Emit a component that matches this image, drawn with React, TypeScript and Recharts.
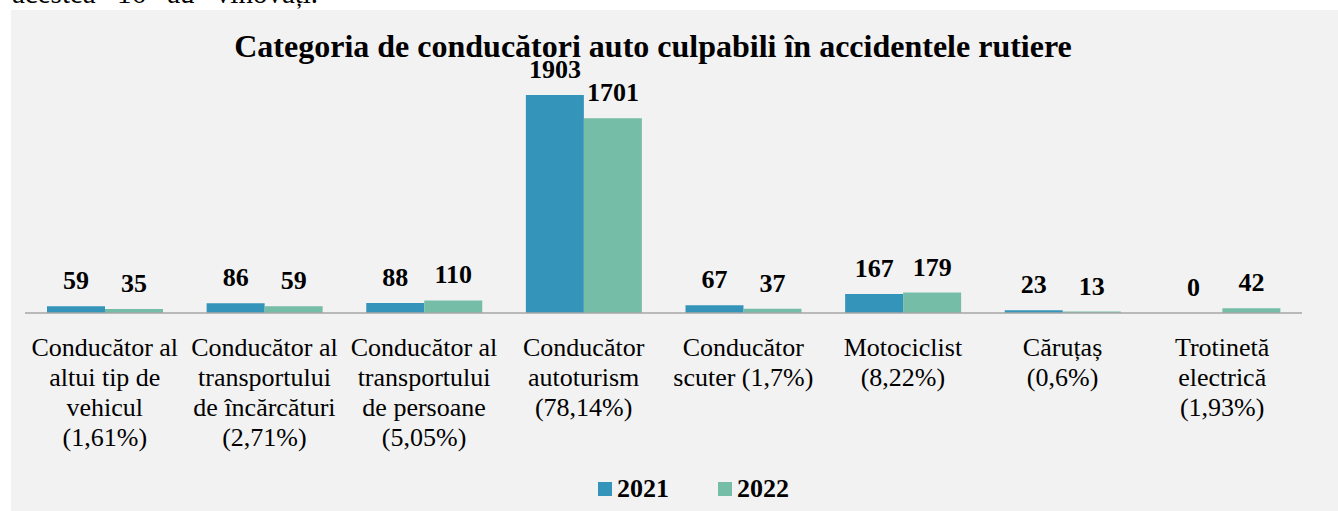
import { Bar, BarChart, LabelList, XAxis, YAxis } from 'recharts'

const FONT = 'Liberation Serif, Times New Roman, serif'

const categories = [
  'Conducător al\naltui tip de\nvehicul\n(1,61%)',
  'Conducător al\ntransportului\nde încărcături\n(2,71%)',
  'Conducător al\ntransportului\nde persoane\n(5,05%)',
  'Conducător\nautoturism\n(78,14%)',
  'Conducător\nscuter (1,7%)',
  'Motociclist\n(8,22%)',
  'Căruțaș\n(0,6%)',
  'Trotinetă\nelectrică\n(1,93%)',
]
const values2021 = [59, 86, 88, 1903, 67, 167, 23, 0]
const values2022 = [35, 59, 110, 1701, 37, 179, 13, 42]
const seriesNames = ['2021', '2022']
const seriesColors = ['#3494BA', '#75BDA7']

const data = categories.map((name, i) => ({ name, v2021: values2021[i], v2022: values2022[i] }))

function CategoryTick({ x, y, payload }: any) {
  const lines = String(payload.value).split('\n')
  return (
    <text x={x} y={y + 43} textAnchor="middle" fontFamily={FONT} fontSize={26} fill="#000">
      {lines.map((line, i) => (
        <tspan key={i} x={x} dy={i === 0 ? 0 : 30}>{line}</tspan>
      ))}
    </text>
  )
}

function ValueLabel({ x, y, width, value }: any) {
  return (
    <text x={x + width / 2} y={y - 17} textAnchor="middle" fill="#000" fontFamily={FONT} fontSize={26} fontWeight={700}>
      {value}
    </text>
  )
}

export default function App() {
  return (
    <div style={{ position: 'absolute', left: 0, top: 0, width: 1338, height: 511, overflow: 'hidden', background: '#fff', fontFamily: FONT }}>
      <div style={{ position: 'absolute', left: 11, top: 10, width: 1327, height: 501, background: '#f2f2f2' }}>
        <BarChart width={1327} height={501} data={data} margin={{ top: 74, right: 36, left: 14, bottom: 168 }} barGap={0} barSize={58} style={{ fontFamily: FONT }}>
          <XAxis
            dataKey="name"
            height={30}
            interval={0}
            tickSize={0}
            tickMargin={0}
            tickLine={false}
            axisLine={{ stroke: '#a6a6a6', strokeWidth: 1.5 }}
            tick={<CategoryTick />}
          />
          <YAxis hide domain={[0, 2000]} />
          <Bar dataKey="v2021" name={seriesNames[0]} fill={seriesColors[0]} minPointSize={0.1} isAnimationActive={false}>
            <LabelList dataKey="v2021" content={<ValueLabel />} />
          </Bar>
          <Bar dataKey="v2022" name={seriesNames[1]} fill={seriesColors[1]} minPointSize={0.1} isAnimationActive={false}>
            <LabelList dataKey="v2022" content={<ValueLabel />} />
          </Bar>
        </BarChart>
      </div>
      <svg width={1338} height={511} style={{ position: 'absolute', left: 0, top: 0, pointerEvents: 'none' }}>
        <text x={12} y={3} fill="#000" fontFamily={FONT} fontSize={29} style={{ wordSpacing: 14 }}>
          acestea 16 au vinovați.
        </text>
        <text x={653} y={57} textAnchor="middle" fill="#000" fontFamily={FONT} fontSize={32} fontWeight={700}>
          Categoria de conducători auto culpabili în accidentele rutiere
        </text>
        {seriesNames.map((name, i) => (
          <g key={name}>
            <rect x={598 + i * 120} y={482} width={14} height={14} fill={seriesColors[i]} />
            <text x={617 + i * 120} y={497} fill="#000" fontFamily={FONT} fontSize={26} fontWeight={700}>
              {name}
            </text>
          </g>
        ))}
      </svg>
    </div>
  )
}
